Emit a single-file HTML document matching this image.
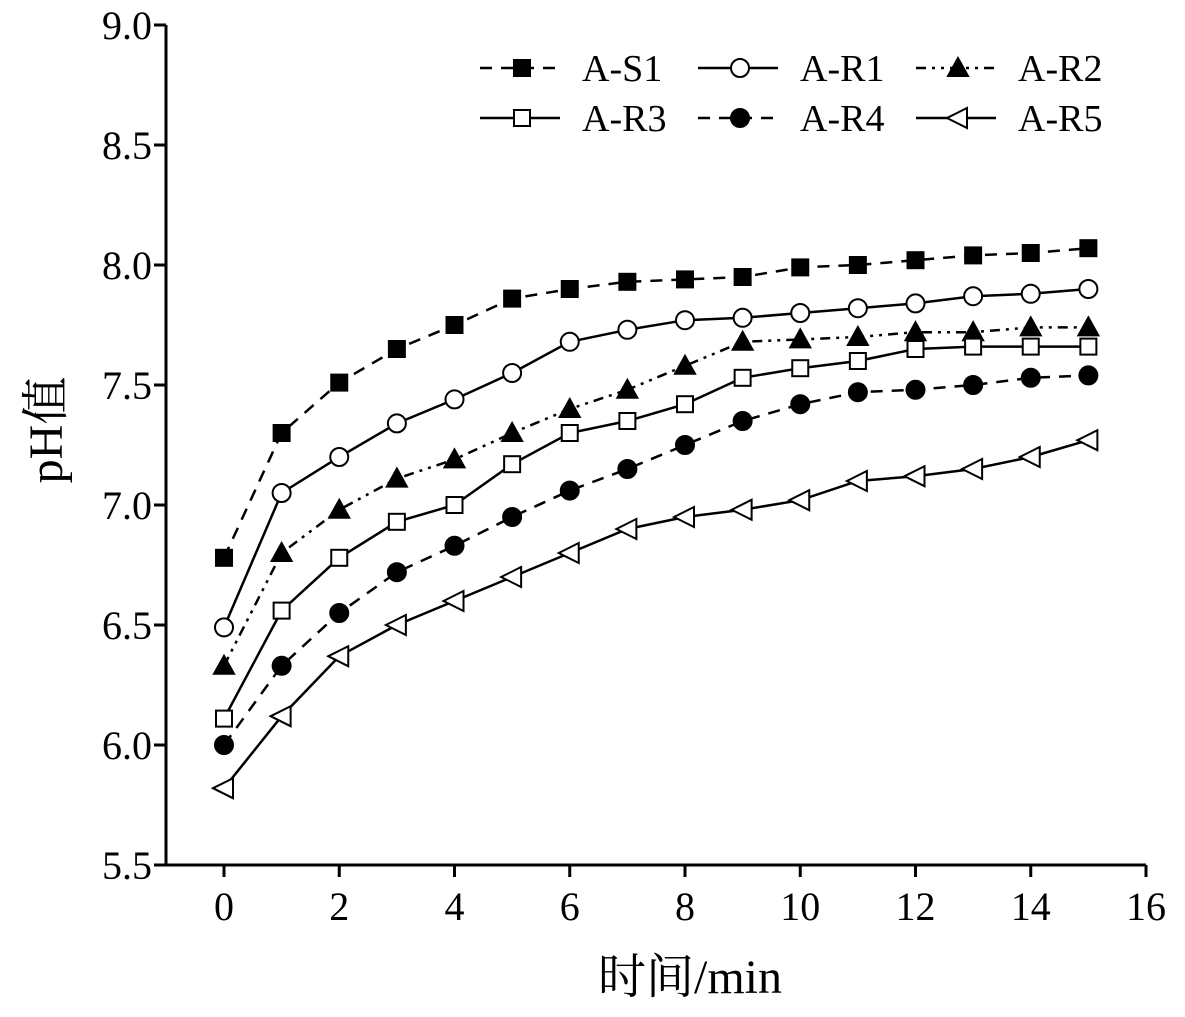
<!DOCTYPE html>
<html><head><meta charset="utf-8"><style>
body{margin:0;background:#fff}
svg text{font-family:"Liberation Serif","Noto Serif CJK SC",serif;fill:#000}
</style></head><body>
<svg id="c" width="1185" height="1012"></svg>
<script>
const xs=[0,1,2,3,4,5,6,7,8,9,10,11,12,13,14,15];
const sS1=[6.78,7.30,7.51,7.65,7.75,7.86,7.90,7.93,7.94,7.95,7.99,8.00,8.02,8.04,8.05,8.07];
const sR1=[6.49,7.05,7.20,7.34,7.44,7.55,7.68,7.73,7.77,7.78,7.80,7.82,7.84,7.87,7.88,7.90];
const sR2=[6.33,6.80,6.98,7.11,7.19,7.30,7.40,7.48,7.58,7.68,7.69,7.70,7.72,7.72,7.74,7.74];
const sR3=[6.11,6.56,6.78,6.93,7.00,7.17,7.30,7.35,7.42,7.53,7.57,7.60,7.65,7.66,7.66,7.66];
const sR4=[6.00,6.33,6.55,6.72,6.83,6.95,7.06,7.15,7.25,7.35,7.42,7.47,7.48,7.50,7.53,7.54];
const sR5=[5.82,6.12,6.37,6.50,6.60,6.70,6.80,6.90,6.95,6.98,7.02,7.10,7.12,7.15,7.20,7.27];
const xTicks=[0,2,4,6,8,10,12,14,16];
const yTicks=[5.5,6.0,6.5,7.0,7.5,8.0,8.5,9.0];
const names=["A-S1","A-R1","A-R2","A-R3","A-R4","A-R5"];
const series=[sS1,sR1,sR2,sR3,sR4,sR5];
const dashes=["12,9","","10,6,3,6,3,6","","12,9",""];
const markers=["sq-f","ci-o","tr-f","sq-o","ci-f","lt-o"];
const X=v=>224+v*57.625, Y=v=>865-(v-5.5)*240;
const svg=document.getElementById('c'),NS='http://www.w3.org/2000/svg';
function el(t,a,p){const e=document.createElementNS(NS,t);for(const k in a)e.setAttribute(k,a[k]);(p||svg).appendChild(e);return e;}
function mk(type,x,y,g){let e;const f=type.endsWith('-f')?'#000':'#fff';
 if(type.startsWith('sq'))e=el('rect',{x:x-8,y:y-8,width:16,height:16,fill:f,stroke:'#000','stroke-width':2},g);
 else if(type.startsWith('ci'))e=el('circle',{cx:x,cy:y,r:9,fill:f,stroke:'#000','stroke-width':2},g);
 else if(type.startsWith('tr'))e=el('polygon',{points:`${x},${y-10} ${x-10},${y+8} ${x+10},${y+8}`,fill:f,stroke:'#000','stroke-width':2},g);
 else e=el('polygon',{points:`${x-11},${y} ${x+9},${y-10} ${x+9},${y+10}`,fill:f,stroke:'#000','stroke-width':2},g);
 
 }
const ax=el('g',{});


el('line',{x1:166,y1:Y(9),x2:166,y2:865,stroke:'#000','stroke-width':3},ax);
el('line',{x1:166,y1:865,x2:1146,y2:865,stroke:'#000','stroke-width':3},ax);
yTicks.forEach(v=>{el('line',{x1:154,y1:Y(v),x2:166,y2:Y(v),stroke:'#000','stroke-width':3},ax);
 const t=el('text',{x:152,y:Y(v)+14,'text-anchor':'end','font-size':40},ax);t.textContent=v.toFixed(1);
 
 });
xTicks.forEach(v=>{el('line',{x1:X(v),y1:865,x2:X(v),y2:877,stroke:'#000','stroke-width':3},ax);
 const t=el('text',{x:X(v),y:920,'text-anchor':'middle','font-size':40},ax);t.textContent=v;
 
 });
const xt=el('text',{x:690,y:993,'text-anchor':'middle','font-size':48});xt.textContent='时间/min';


const yt=el('text',{x:62,y:430,'text-anchor':'middle','font-size':48,transform:'rotate(-90 62 430)'});yt.textContent='pH值';


series.forEach((s,i)=>{const g=el('g',{});
 
 
 el('polyline',{points:s.map((v,j)=>X(xs[j])+','+Y(v)).join(' '),fill:'none',stroke:'#000','stroke-width':2.5,'stroke-dasharray':dashes[i]},g);
 s.forEach((v,j)=>mk(markers[i],X(xs[j]),Y(v),g));});
const lx=[480,698,916],ly=[68,118];
names.forEach((n,i)=>{const g=el('g',{});
 
 
 const x=lx[i%3],y=ly[Math.floor(i/3)];
 el('line',{x1:x,y1:y,x2:x+80,y2:y,stroke:'#000','stroke-width':2.5,'stroke-dasharray':dashes[i]},g);
 mk(markers[i],x+42,y,g);
 const t=el('text',{x:x+102,y:y+13,'font-size':38},g);t.textContent=n;});
</script>
</body></html>
